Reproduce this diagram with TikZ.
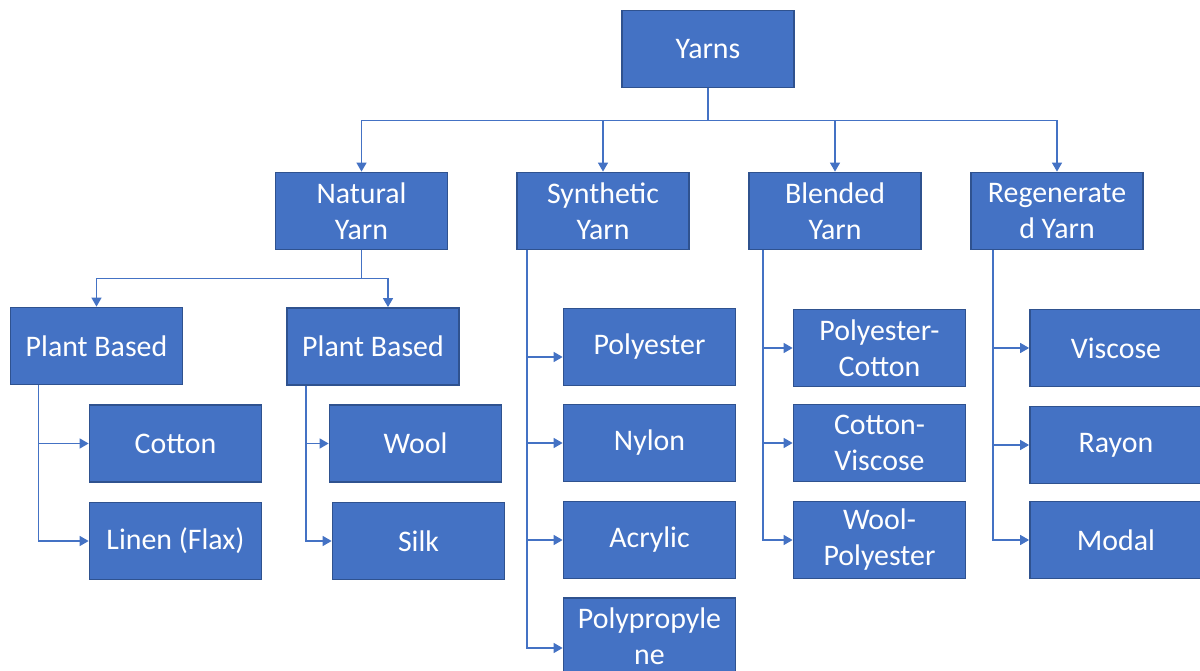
\documentclass[tikz,border=0pt]{standalone}
\usepackage{fontspec}
\setmainfont{Carlito}
\usepackage{xcolor}
\usepackage{tikz}
\usetikzlibrary{arrows.meta}
\definecolor{boxfill}{HTML}{4472C4}
\definecolor{boxline}{HTML}{2F528F}
\definecolor{linkcolor}{HTML}{4472C4}
\tikzset{
  yarnbox/.style={draw=boxline, line width=1pt, fill=boxfill, text=white, rectangle,
    minimum width=3.44cm, minimum height=1.54cm, inner sep=0pt, align=center,
    font=\fontsize{17pt}{20.5pt}\selectfont},
  link/.style={draw=linkcolor, line width=0.8pt},
  arrowlink/.style={link, -{Triangle[length=0.18cm,width=0.2cm]}}
}

\begin{document}
\begin{tikzpicture}[x=0.02cm, y=-0.02cm]%
\useasboundingbox (0,0) rectangle (1200,671);%
% top level
\node[yarnbox] (yarns) at (708, 49) {Yarns};%
\node[yarnbox] (natural) at (361.5, 211) {Natural\\Yarn};%
\node[yarnbox] (synthetic) at (603, 211) {Synthetic\\Yarn};%
\node[yarnbox] (blended) at (835, 211) {Blended\\Yarn};%
\node[yarnbox] (regen) at (1057, 211) {Regenerate\\d Yarn};%
% natural
\node[yarnbox] (plantA) at (96.5, 346) {Plant Based};%
\node[yarnbox] (plantB) at (373, 346.5) {Plant Based};%
\node[yarnbox] (cotton) at (175.5, 443.5) {Cotton};%
\node[yarnbox] (linen) at (175.5, 541) {Linen (Flax)};%
\node[yarnbox] (wool) at (415.5, 443.5) {Wool};%
\node[yarnbox] (silk) at (418.5, 541) {Silk};%
% synthetic
\node[yarnbox] (polyester) at (649.5, 347) {Polyester};%
\node[yarnbox] (nylon) at (649.5, 443) {Nylon};%
\node[yarnbox] (acrylic) at (649.5, 540) {Acrylic};%
\node[yarnbox] (polyprop) at (649.5, 636.5) {Polypropyle\\ne};%
% blended
\node[yarnbox] (polycotton) at (879.5, 348) {Polyester-\\Cotton};%
\node[yarnbox] (cottonvisc) at (879.5, 443) {Cotton-\\Viscose};%
\node[yarnbox] (woolpoly) at (879.5, 540) {Wool-\\Polyester};%
% regenerated
\node[yarnbox] (viscose) at (1116, 348) {Viscose};%
\node[yarnbox] (rayon) at (1116, 445) {Rayon};%
\node[yarnbox] (modal) at (1116, 540) {Modal};%
% connectors
\draw[link] (yarns.south) -- ++(0,32) coordinate (bus);%
\foreach \kind in {natural, synthetic, blended, regen}
  \draw[arrowlink] (bus) -| (\kind.north);%
\draw[link] (natural.south) -- ++(0,28) coordinate (natjoin);%
\coordinate (plantBin) at ([xshift=0.3cm]plantB.north);%
\draw[arrowlink] (natjoin) -| (plantA.north);%
\draw[arrowlink] (natjoin) -| (plantBin);%
\coordinate (plantAtrunk) at ([xshift=0.58cm]plantA.south west);%
\coordinate (plantBtrunk) at ([xshift=0.4cm]plantB.south west);%
\coordinate (syntrunk) at ([xshift=0.22cm]synthetic.south west);%
\coordinate (bletrunk) at ([xshift=0.3cm]blended.south west);%
\coordinate (regtrunk) at ([xshift=0.46cm]regen.south west);%
\foreach \child in {cotton, linen}
  \draw[arrowlink] (plantAtrunk) |- (\child.west);%
\foreach \child in {wool, silk}
  \draw[arrowlink] (plantBtrunk) |- (\child.west);%
\draw[arrowlink] (syntrunk) |- ([yshift=-0.2cm]polyester.west);%
\foreach \child in {nylon, acrylic}
  \draw[arrowlink] (syntrunk) |- (\child.west);%
\draw[arrowlink] (syntrunk) |- ([yshift=-0.23cm]polyprop.west);%
\foreach \child in {polycotton, cottonvisc, woolpoly}
  \draw[arrowlink] (bletrunk) |- (\child.west);%
\foreach \child in {viscose, rayon, modal}
  \draw[arrowlink] (regtrunk) |- (\child.west);%
\end{tikzpicture}
\end{document}
